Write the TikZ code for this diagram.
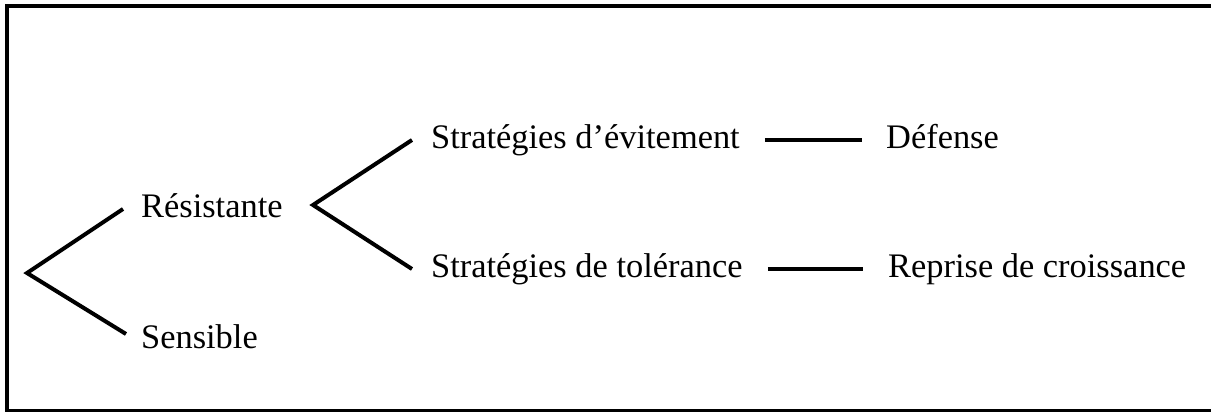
\documentclass[tikz,border=0pt]{standalone}
\usepackage{fontspec}
\setmainfont{Liberation Serif}
\usepackage{tikz}
\usetikzlibrary{positioning}

\tikzset{
  term/.style={anchor=base west, inner xsep=0pt, inner ysep=0pt,
               text height=16pt, text depth=0pt,
               font=\fontsize{34.4}{40}\selectfont},
  branch/.style={line width=4pt, miter limit=20}
}

\begin{document}
\begin{tikzpicture}[x=1pt, y=-1pt]
  \useasboundingbox (0,0) rectangle (1211,412);
  \draw[line width=4pt] (6.5,6) rectangle (1214,410.5);

  % branching points
  \coordinate (root) at (27,273);
  \coordinate (fork) at (313,205);

  \node[term] (res) at (141,217) {Résistante};
  \node[term] (sens) at (141,348) {Sensible};
  \node[term] (evit) at (431,148) {Stratégies d’évitement};
  \node[term] (tol) at (431,277) {Stratégies de tolérance};
  \node[term] (def) at (886,148) {Défense};
  \node[term] (rep) at (888,277) {Reprise de croissance};

  \draw[branch] ([xshift=-18pt]res.west) -- (root)
                -- ([shift={(-15pt,6pt)}]sens.west);
  \draw[branch] ([xshift=-19pt]evit.west) -- (fork)
                -- ([xshift=-19pt]tol.west);
  \draw[branch] ([xshift=25pt]evit.east) -- ([xshift=-24pt]def.west);
  \draw[branch] ([xshift=25pt]tol.east) -- ([xshift=-25pt]rep.west);
\end{tikzpicture}
\end{document}
